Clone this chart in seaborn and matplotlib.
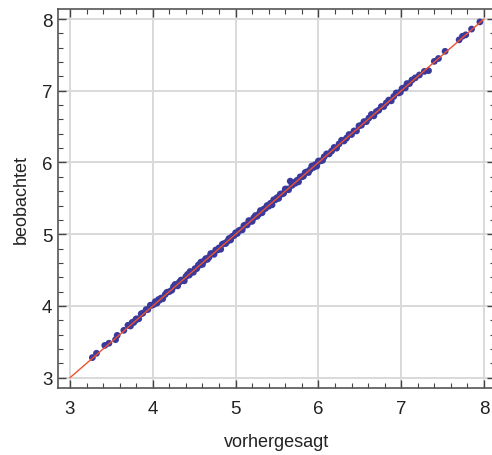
import numpy as np
import pandas as pd
import matplotlib
matplotlib.use("Agg")
import matplotlib.pyplot as plt
import seaborn as sns
from matplotlib.ticker import MultipleLocator

# predicted values (vorhergesagt)
vorhergesagt = [
    3.27, 3.32, 3.42, 3.47, 3.55, 3.57, 3.65, 3.70, 3.73, 3.75, 3.77, 3.79, 3.80, 3.83, 3.86, 3.88, 3.92, 3.94, 3.97, 3.99,
    4.01, 4.03, 4.05, 4.07, 4.08, 4.10, 4.12, 4.15, 4.17, 4.20, 4.23, 4.25, 4.27, 4.30, 4.32, 4.34, 4.36, 4.38, 4.40, 4.42, 4.44, 4.45, 4.47, 4.49,
    4.51, 4.53, 4.55, 4.57, 4.58, 4.60, 4.62, 4.64, 4.66, 4.68, 4.70, 4.72, 4.74, 4.76, 4.78, 4.80, 4.82, 4.84, 4.86, 4.88, 4.90, 4.92, 4.94, 4.96, 4.98,
    5.00, 5.02, 5.04, 5.06, 5.08, 5.10, 5.12, 5.14, 5.16, 5.18, 5.20, 5.22, 5.24, 5.26, 5.28, 5.30, 5.32, 5.34, 5.36, 5.38, 5.40, 5.42, 5.44, 5.46, 5.48,
    5.50, 5.52, 5.54, 5.56, 5.58, 5.60, 5.62, 5.64, 5.66, 5.68, 5.70, 5.72, 5.74, 5.76, 5.78, 5.80, 5.82, 5.84, 5.86, 5.88, 5.90, 5.92, 5.94, 5.96, 5.98,
    6.00, 6.02, 6.05, 6.07, 6.10, 6.13, 6.16, 6.19, 6.22, 6.25, 6.28, 6.31, 6.34, 6.37, 6.40, 6.43, 6.46, 6.49,
    6.52, 6.55, 6.58, 6.61, 6.64, 6.67, 6.70, 6.73, 6.76, 6.79, 6.82, 6.85, 6.88, 6.91, 6.94, 6.97, 6.99,
    7.01, 7.03, 7.05, 7.07, 7.10, 7.13, 7.17, 7.22, 7.28, 7.33, 7.40, 7.45, 7.53, 7.70, 7.74, 7.78, 7.85, 7.95,
]

abweichung = [
    0.01, 0.02, 0.03, 0.01, -0.02, 0.02, 0.01, 0.03, -0.01, 0.02, 0.00, 0.01, 0.02, -0.01, 0.03, 0.02, 0.03, 0.01, 0.04, 0.02,
    0.01, 0.03, -0.01, 0.02, 0.00, 0.01, -0.02, 0.01, 0.02, 0.00, -0.01, 0.02, 0.03, -0.02, 0.01, 0.02, 0.00, -0.03, 0.01, 0.02, -0.01, 0.03, 0.00, -0.02,
    0.01, -0.01, 0.02, 0.00, 0.03, -0.02, 0.01, 0.02, -0.01, 0.00, 0.03, 0.01, -0.02, 0.02, 0.00, 0.01, -0.03, 0.02, 0.01, -0.01, 0.00, 0.02, -0.02, 0.01, 0.00,
    0.02, -0.01, 0.01, 0.00, -0.02, 0.02, 0.01, -0.01, 0.03, 0.00, -0.02, 0.01, 0.02, -0.01, 0.00, 0.03, -0.02, 0.01, 0.00, 0.02, -0.01, 0.01, -0.03, 0.02, 0.00,
    0.01, -0.02, 0.02, 0.00, -0.01, 0.03, 0.01, -0.02, 0.08, 0.00, 0.02, -0.01, 0.01, -0.03, 0.02, 0.00, -0.01, 0.02, 0.01, -0.02, 0.00, 0.03, -0.01, 0.01, -0.03,
    0.02, 0.00, -0.02, 0.01, 0.02, -0.01, 0.00, 0.02, -0.02, 0.01, 0.03, -0.01, 0.00, 0.02, -0.01, 0.01, -0.02, 0.02,
    0.00, 0.02, -0.01, 0.01, 0.03, -0.02, 0.01, 0.00, 0.02, -0.01, 0.01, 0.02, -0.02, 0.01, 0.03, 0.00, -0.01,
    0.02, 0.01, -0.01, 0.03, 0.00, 0.02, 0.01, 0.00, -0.01, -0.05, 0.01, 0.00, 0.02, 0.01, 0.02, 0.00, 0.01, 0.01,
]

# reference line y = x
ref_line = [3.0, 8.0]

beobachtet = [p + d for p, d in zip(vorhergesagt, abweichung)]
df = pd.DataFrame({"vorhergesagt": vorhergesagt[:len(beobachtet)], "beobachtet": beobachtet})
line_df = pd.DataFrame({"x": ref_line, "y": ref_line})

sns.set_theme(style="white")
plt.rcParams["font.family"] = ["Liberation Sans", "DejaVu Sans"]

fig = plt.figure(figsize=(4.92, 4.56), dpi=100)
fig.patch.set_facecolor("white")
ax = fig.add_axes([58 / 492, 67 / 456, 437 / 492, 379 / 456])
ax.set_facecolor("white")

sns.scatterplot(data=df, x="vorhergesagt", y="beobachtet", ax=ax, s=24,
                color="#3a3a9c", edgecolor="none", linewidth=0, zorder=3)
sns.lineplot(data=line_df, x="x", y="y", ax=ax, color="#f0502e", linewidth=1.0, zorder=4)

ax.set_xlim(2.855, 8.133)
ax.set_ylim(2.856, 8.14)

ax.xaxis.set_major_locator(MultipleLocator(1))
ax.yaxis.set_major_locator(MultipleLocator(1))
ax.xaxis.set_minor_locator(MultipleLocator(0.2))
ax.yaxis.set_minor_locator(MultipleLocator(0.2))

ax.grid(True, which="major", color="#d9d9d9", linewidth=1.4, zorder=0)
ax.set_axisbelow(True)

ax.tick_params(which="both", direction="in", top=True, right=True, bottom=True, left=True,
               color="#444444", labelsize=13.5, labelcolor="#222222")
ax.tick_params(which="major", length=6, width=1.0)
ax.tick_params(which="minor", length=3.5, width=0.8)
ax.tick_params(axis="x", which="major", pad=9)
ax.tick_params(axis="y", which="major", pad=4)

for sp in ax.spines.values():
    sp.set_color("#555555")
    sp.set_linewidth(1.2)

ax.set_xlabel("vorhergesagt", fontsize=13, color="#222222", labelpad=11)
ax.set_ylabel("beobachtet", fontsize=13, color="#222222", labelpad=9)

fig.savefig("out.png", dpi=100, facecolor="white")
